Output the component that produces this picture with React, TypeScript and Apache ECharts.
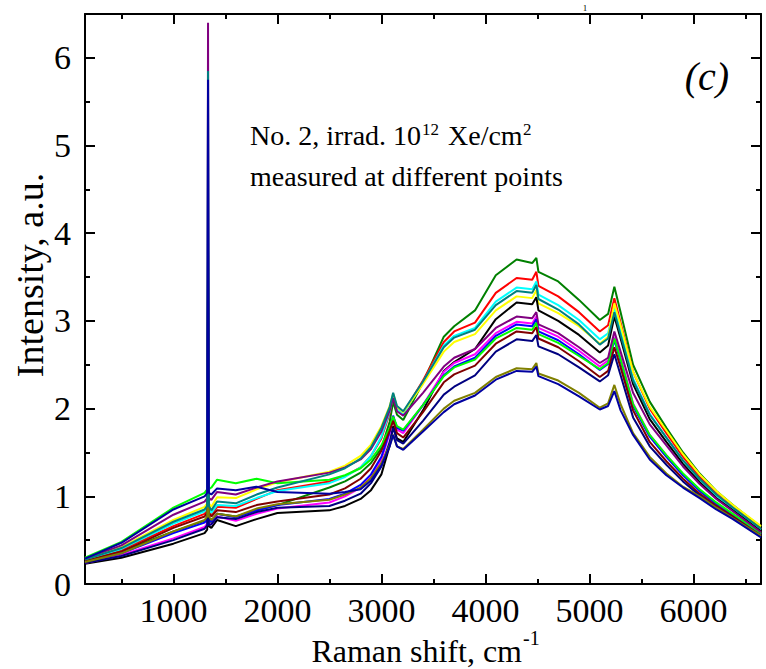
import React, { useEffect, useRef } from "react";
import * as echarts from "echarts";

const FONT = "Liberation Serif";

// Axis ticks / labels
const xMajorTicks = [1000, 2000, 3000, 4000, 5000, 6000];
const xMinorTicks = [500, 1500, 2500, 3500, 4500, 5500, 6500];
const yMajorTicks = [0, 1, 2, 3, 4, 5, 6];
const yMinorTicks = [0.5, 1.5, 2.5, 3.5, 4.5, 5.5];
const xRange = [150, 6650];
const yRange = [0, 6.5];

// Raman shift (cm^-1) sample positions
const ramanShift = [150, 500, 1000, 1300, 1325, 1333, 1341, 1365, 1420, 1600, 1800, 2000, 2500, 2650, 2800, 2900, 3000, 3080, 3113, 3150, 3210, 3400, 3600, 3700, 3900, 4100, 4300, 4450, 4490, 4510, 4700, 4900, 5100, 5180, 5240, 5300, 5420, 5580, 5740, 5900, 6060, 6220, 6380, 6650];

// Intensity (a.u.) of each measured point
const green = [0.27, 0.37, 0.60, 0.72, 0.76, 3.2, 0.76, 0.70, 0.80, 0.77, 0.84, 0.90, 1.10, 1.17, 1.27, 1.38, 1.55, 1.85, 2.08, 1.93, 1.87, 2.30, 2.82, 2.94, 3.12, 3.52, 3.70, 3.66, 3.72, 3.56, 3.45, 3.24, 3.01, 3.08, 3.39, 3.10, 2.50, 2.08, 1.78, 1.50, 1.26, 1.06, 0.90, 0.65];
const red = [0.27, 0.39, 0.66, 0.80, 0.84, 3.5, 0.84, 0.78, 0.88, 0.87, 0.97, 1.07, 1.17, 1.23, 1.33, 1.46, 1.66, 1.95, 2.16, 2.00, 1.95, 2.32, 2.76, 2.88, 2.98, 3.32, 3.49, 3.47, 3.56, 3.40, 3.28, 3.10, 2.88, 2.95, 3.26, 2.98, 2.42, 2.00, 1.72, 1.45, 1.22, 1.03, 0.87, 0.63];
const cyan = [0.28, 0.40, 0.69, 0.83, 0.87, 3.6, 0.87, 0.81, 0.90, 0.89, 0.98, 1.06, 1.15, 1.22, 1.33, 1.46, 1.68, 1.97, 2.15, 2.00, 1.94, 2.30, 2.72, 2.83, 2.92, 3.22, 3.38, 3.36, 3.45, 3.30, 3.18, 3.01, 2.79, 2.86, 3.15, 2.88, 2.34, 1.94, 1.67, 1.41, 1.19, 1.01, 0.86, 0.62];
const teal = [0.28, 0.41, 0.71, 0.85, 0.89, 5.85, 0.89, 0.84, 0.94, 0.92, 1.02, 1.10, 1.25, 1.32, 1.43, 1.56, 1.78, 2.02, 2.18, 2.03, 1.97, 2.31, 2.70, 2.81, 2.90, 3.18, 3.34, 3.32, 3.41, 3.25, 3.13, 2.96, 2.73, 2.80, 3.10, 2.84, 2.32, 1.93, 1.67, 1.41, 1.20, 1.02, 0.87, 0.63];
const yellow = [0.29, 0.42, 0.73, 0.88, 0.92, 3.8, 0.92, 0.88, 0.99, 0.98, 1.08, 1.16, 1.28, 1.35, 1.46, 1.59, 1.80, 2.03, 2.17, 2.02, 1.96, 2.28, 2.65, 2.76, 2.85, 3.12, 3.28, 3.26, 3.35, 3.20, 3.09, 2.94, 2.74, 2.82, 3.20, 2.95, 2.42, 2.02, 1.75, 1.48, 1.25, 1.06, 0.90, 0.66];
const black = [0.23, 0.30, 0.46, 0.58, 0.62, 3.0, 0.66, 0.64, 0.73, 0.66, 0.74, 0.81, 0.84, 0.89, 0.97, 1.07, 1.25, 1.58, 1.80, 1.66, 1.62, 1.98, 2.43, 2.53, 2.68, 3.02, 3.21, 3.19, 3.27, 3.12, 3.00, 2.84, 2.64, 2.72, 3.05, 2.80, 2.28, 1.88, 1.62, 1.37, 1.16, 0.98, 0.84, 0.60];
const purple = [0.29, 0.44, 0.79, 0.94, 0.98, 6.40, 0.98, 0.96, 1.05, 1.02, 1.10, 1.17, 1.27, 1.33, 1.42, 1.54, 1.74, 1.98, 2.12, 1.97, 1.92, 2.18, 2.48, 2.58, 2.68, 2.92, 3.05, 3.03, 3.10, 2.96, 2.86, 2.70, 2.52, 2.58, 2.88, 2.65, 2.18, 1.82, 1.58, 1.34, 1.14, 0.97, 0.83, 0.59];
const magenta = [0.24, 0.33, 0.52, 0.65, 0.69, 3.2, 0.69, 0.68, 0.77, 0.72, 0.80, 0.86, 0.93, 1.00, 1.10, 1.22, 1.42, 1.72, 1.90, 1.76, 1.72, 2.04, 2.42, 2.52, 2.62, 2.86, 2.99, 2.97, 3.05, 2.92, 2.82, 2.66, 2.48, 2.55, 2.82, 2.58, 2.06, 1.70, 1.47, 1.25, 1.07, 0.92, 0.79, 0.57];
const blue = [0.25, 0.35, 0.58, 0.70, 0.74, 3.3, 0.74, 0.71, 0.80, 0.76, 0.84, 0.90, 0.97, 1.03, 1.13, 1.25, 1.45, 1.74, 1.92, 1.78, 1.75, 2.04, 2.38, 2.48, 2.58, 2.83, 2.96, 2.94, 3.02, 2.88, 2.78, 2.62, 2.44, 2.51, 2.78, 2.54, 2.03, 1.68, 1.45, 1.24, 1.06, 0.91, 0.78, 0.56];
const lime = [0.30, 0.48, 0.87, 1.04, 1.08, 3.8, 1.08, 1.10, 1.19, 1.15, 1.20, 1.15, 1.19, 1.24, 1.32, 1.42, 1.58, 1.78, 1.91, 1.80, 1.76, 2.04, 2.37, 2.47, 2.56, 2.80, 2.92, 2.90, 2.98, 2.85, 2.75, 2.60, 2.45, 2.52, 2.80, 2.56, 2.05, 1.70, 1.47, 1.26, 1.08, 0.93, 0.80, 0.58];
const darkRed = [0.26, 0.37, 0.64, 0.77, 0.81, 3.4, 0.81, 0.77, 0.84, 0.82, 0.90, 0.94, 1.02, 1.09, 1.20, 1.32, 1.52, 1.75, 1.86, 1.72, 1.67, 1.96, 2.30, 2.39, 2.49, 2.74, 2.88, 2.86, 2.93, 2.80, 2.70, 2.54, 2.36, 2.43, 2.70, 2.47, 1.98, 1.62, 1.40, 1.20, 1.03, 0.89, 0.77, 0.55];
const navy = [0.24, 0.32, 0.50, 0.63, 0.67, 3.1, 0.67, 0.68, 0.76, 0.74, 0.82, 0.87, 0.89, 0.95, 1.03, 1.15, 1.34, 1.62, 1.78, 1.64, 1.60, 1.86, 2.16, 2.25, 2.38, 2.65, 2.79, 2.77, 2.84, 2.71, 2.62, 2.47, 2.31, 2.38, 2.62, 2.38, 1.90, 1.57, 1.36, 1.17, 1.01, 0.87, 0.75, 0.54];
const olive = [0.25, 0.35, 0.60, 0.73, 0.77, 3.0, 0.77, 0.73, 0.80, 0.77, 0.86, 0.91, 0.96, 1.02, 1.10, 1.21, 1.38, 1.58, 1.70, 1.57, 1.54, 1.76, 2.00, 2.09, 2.18, 2.36, 2.46, 2.45, 2.52, 2.40, 2.32, 2.18, 2.01, 2.06, 2.27, 2.05, 1.72, 1.45, 1.26, 1.11, 1.00, 0.87, 0.75, 0.55];
const royal = [0.29, 0.47, 0.85, 1.00, 1.04, 5.75, 1.04, 1.02, 1.09, 1.07, 1.11, 1.05, 1.03, 1.05, 1.08, 1.18, 1.35, 1.57, 1.70, 1.57, 1.53, 1.74, 1.96, 2.05, 2.15, 2.33, 2.43, 2.42, 2.48, 2.37, 2.28, 2.14, 1.99, 2.03, 2.20, 1.98, 1.70, 1.42, 1.24, 1.10, 0.98, 0.85, 0.74, 0.53];

const seriesList = [
  { name: "P1", color: "#008000", values: green },
  { name: "P2", color: "#ff0000", values: red },
  { name: "P3", color: "#00ffff", values: cyan },
  { name: "P4", color: "#ffff00", values: yellow },
  { name: "P5", color: "#000000", values: black },
  { name: "P6", color: "#ff00ff", values: magenta },
  { name: "P7", color: "#0000ff", values: blue },
  { name: "P8", color: "#00ff00", values: lime },
  { name: "P9", color: "#800000", values: darkRed },
  { name: "P10", color: "#000080", values: navy },
  { name: "P11", color: "#808000", values: olive },
  { name: "P12", color: "#800080", values: purple },
  { name: "P13", color: "#008080", values: teal },
  { name: "P14", color: "#0000a0", values: royal },
];

const LABEL_SIZE = 34;

function xAx(position: string, major: boolean) {
  return {
    type: "value",
    min: xRange[0],
    max: xRange[1],
    position,
    axisLine: { show: major, onZero: false, lineStyle: { color: "#000", width: 2 } },
    axisTick: {
      show: true,
      inside: true,
      length: major ? 10 : 5,
      lineStyle: { color: "#000", width: 2 },
      customValues: major ? xMajorTicks : xMinorTicks,
    },
    axisLabel: major && position === "bottom"
      ? {
          show: true,
          customValues: xMajorTicks,
          formatter: (v: number) => String(v),
          color: "#000",
          fontSize: LABEL_SIZE,
          fontFamily: FONT,
          margin: 9,
        }
      : { show: false },
    splitLine: { show: false },
  };
}

function yAx(position: string, major: boolean) {
  return {
    type: "value",
    min: yRange[0],
    max: yRange[1],
    position,
    axisLine: { show: major, onZero: false, lineStyle: { color: "#000", width: 2 } },
    axisTick: {
      show: true,
      inside: true,
      length: major ? 10 : 5,
      lineStyle: { color: "#000", width: 2 },
      customValues: major ? yMajorTicks : yMinorTicks,
    },
    axisLabel: major && position === "left"
      ? {
          show: true,
          customValues: yMajorTicks,
          formatter: (v: number) => String(v),
          color: "#000",
          fontSize: LABEL_SIZE,
          fontFamily: FONT,
          margin: 14,
        }
      : { show: false },
    splitLine: { show: false },
  };
}

export default function App() {
  const ref = useRef<HTMLDivElement>(null);
  useEffect(() => {
    if (!ref.current) return;
    const chart = echarts.init(ref.current, null, { renderer: "svg" });
    const txt = (text: string, x: number, y: number, size: number, extra: any = {}) => ({
      type: "text",
      x,
      y,
      silent: true,
      style: {
        text,
        fontSize: size,
        fontFamily: FONT,
        fill: "#000",
        align: "left",
        verticalAlign: "middle",
        ...extra,
      },
    });
    chart.setOption({
      animation: false,
      backgroundColor: "#fff",
      grid: { left: 85, right: 5, top: 14, bottom: 85, containLabel: false, outerBoundsMode: "none" },
      xAxis: [xAx("bottom", true), xAx("bottom", false), xAx("top", true), xAx("top", false)],
      yAxis: [yAx("left", true), yAx("left", false), yAx("right", true), yAx("right", false)],
      series: seriesList.map((s) => ({
        name: s.name,
        type: "line",
        xAxisIndex: 0,
        yAxisIndex: 0,
        showSymbol: false,
        symbol: "none",
        lineStyle: { color: s.color, width: 2 },
        itemStyle: { color: s.color },
        data: ramanShift.map((x, i) => [x, s.values[i]]),
      })),
      graphic: [
        { ...txt("Intensity, a.u.", 30, 275, 38, { align: "center" }), rotation: Math.PI / 2 },
        txt("Raman shift, cm", 522, 651, 32, { align: "right" }),
        txt("-1", 523, 638, 20),
        txt("No. 2, irrad. 10", 250, 135, 28),
        txt("12", 422, 129, 17),
        txt("Xe/cm", 448, 135, 28),
        txt("2", 523, 129, 17),
        txt("measured at different points", 250, 176, 28),
        txt("(c)", 707, 76, 40, { align: "center", fontStyle: "italic" }),
        txt("1", 585, 8, 9, { align: "center" }),
      ],
    });
    return () => chart.dispose();
  }, []);
  return (
    <div
      ref={ref}
      style={{ position: "absolute", left: 0, top: 0, width: 766, height: 669, background: "#fff" }}
    />
  );
}
